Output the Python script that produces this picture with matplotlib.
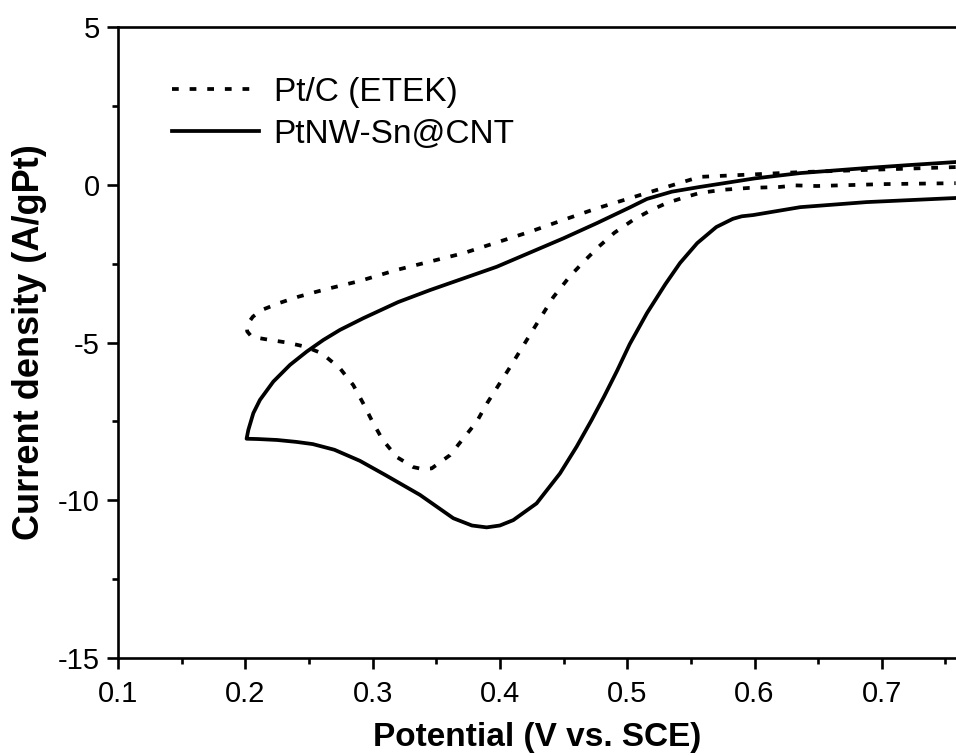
import matplotlib
matplotlib.use("Agg")
import matplotlib.pyplot as plt

plt.rcParams['font.family'] = ['Liberation Sans', 'DejaVu Sans']

# Pt/C (ETEK): closed CV loop, upper branch right->left, then lower branch left->right
ptc_x = [0.758, 0.720, 0.688, 0.636, 0.600, 0.557, 0.5155, 0.476, 0.4495, 0.4236,
         0.3713, 0.3189, 0.290, 0.2665, 0.256, 0.2416, 0.2273, 0.2129, 0.206, 0.2011, 0.2015,
         0.205, 0.2194, 0.2325, 0.2469, 0.260, 0.2744, 0.2848, 0.2925, 0.300, 0.308, 0.319,
         0.332, 0.339, 0.3464, 0.3608, 0.3713, 0.3818, 0.390, 0.408, 0.426, 0.442, 0.455,
         0.467, 0.478, 0.490, 0.5045, 0.518, 0.531, 0.545, 0.557, 0.575, 0.596, 0.620,
         0.632, 0.649, 0.701, 0.758]
ptc_y = [0.56, 0.51, 0.47, 0.40, 0.33, 0.25, -0.26, -0.75, -1.12, -1.49,
         -2.17, -2.70, -3.05, -3.28, -3.39, -3.55, -3.74, -3.97, -4.18, -4.45, -4.65,
         -4.82, -4.92, -5.00, -5.13, -5.34, -5.82, -6.35, -6.92, -7.52, -8.09, -8.63,
         -8.95, -9.01, -8.99, -8.57, -8.04, -7.51, -6.92, -5.78, -4.60, -3.56, -2.90,
         -2.39, -1.95, -1.52, -1.12, -0.82, -0.58, -0.40, -0.26, -0.16, -0.10, -0.07,
         -0.02, -0.04, 0.02, 0.05]

# PtNW-Sn@CNT: closed CV loop
ptnw_x = [0.758, 0.720, 0.688, 0.636, 0.600, 0.557, 0.535, 0.5155, 0.502, 0.476, 0.4498,
          0.3975, 0.345, 0.320, 0.2927, 0.2744, 0.2613, 0.2482, 0.2351, 0.222, 0.2115, 0.2063,
          0.2024, 0.2010, 0.2100, 0.225, 0.240, 0.253, 0.270, 0.290, 0.310, 0.3372, 0.3634,
          0.378, 0.3896, 0.4000, 0.4105, 0.4288, 0.4472, 0.4603, 0.472, 0.482, 0.492, 0.502,
          0.5155, 0.530, 0.5415, 0.555, 0.570, 0.583, 0.590, 0.599, 0.636, 0.688, 0.758]
ptnw_y = [0.72, 0.62, 0.53, 0.37, 0.20, -0.07, -0.22, -0.45, -0.72, -1.22, -1.70,
          -2.60, -3.34, -3.72, -4.23, -4.60, -4.92, -5.29, -5.71, -6.24, -6.82, -7.24,
          -7.77, -8.05, -8.06, -8.09, -8.15, -8.22, -8.40, -8.75, -9.20, -9.83, -10.57,
          -10.80, -10.86, -10.80, -10.63, -10.10, -9.15, -8.30, -7.46, -6.70, -5.90, -5.05,
          -4.07, -3.15, -2.48, -1.85, -1.34, -1.08, -1.00, -0.96, -0.71, -0.55, -0.42]

labels = ['Pt/C (ETEK)', 'PtNW-Sn@CNT']
x_ticks = [0.1, 0.2, 0.3, 0.4, 0.5, 0.6, 0.7]
x_ticklabels = ['0.1', '0.2', '0.3', '0.4', '0.5', '0.6', '0.7']
y_ticks = [-15, -10, -5, 0, 5]
y_ticklabels = ['-15', '-10', '-5', '0', '5']

W, H = 956, 756
fig = plt.figure(figsize=(W / 100, H / 100), dpi=100)
ax = fig.add_axes([118 / W, (H - 658) / H, (W - 118) / W, (658 - 27) / H])

lw = 2.7
ax.plot(ptc_x, ptc_y, color='black', lw=lw, linestyle=(0, (1.8, 2.9)),
        dash_capstyle='butt', solid_joinstyle='round', label=labels[0])
ax.plot(ptnw_x, ptnw_y, color='black', lw=lw, linestyle='-',
        solid_joinstyle='round', label=labels[1])

ax.set_xlim(0.1, 0.1 + (W - 118) / 1273)
ax.set_ylim(-15, 5)
ax.set_xticks(x_ticks)
ax.set_xticklabels(x_ticklabels)
ax.set_yticks(y_ticks)
ax.set_yticklabels(y_ticklabels)
ax.set_xticks([0.15, 0.25, 0.35, 0.45, 0.55, 0.65, 0.75], minor=True)
ax.set_yticks([-12.5, -7.5, -2.5, 2.5], minor=True)

for s in ['left', 'bottom', 'top']:
    ax.spines[s].set_linewidth(1.9)
ax.spines['right'].set_visible(False)

ax.tick_params(which='major', direction='out', length=8, width=1.9, labelsize=21)
ax.tick_params(axis='y', which='major', pad=5)
ax.tick_params(axis='x', which='major', pad=8)
ax.tick_params(which='minor', direction='out', length=4, width=1.9)

ax.set_xlabel('Potential (V vs. SCE)', fontsize=24, fontweight='bold', labelpad=10)
ax.set_ylabel('Current density (A/gPt)', fontsize=26, fontweight='bold', labelpad=8)

leg = ax.legend(loc='upper left', bbox_to_anchor=(172 / W, 1 - 77 / H),
                bbox_transform=fig.transFigure, frameon=False, fontsize=24,
                handlelength=2.6, handletextpad=0.45, labelspacing=0.33,
                borderpad=0, borderaxespad=0)

fig.savefig('out.png', dpi=100)
